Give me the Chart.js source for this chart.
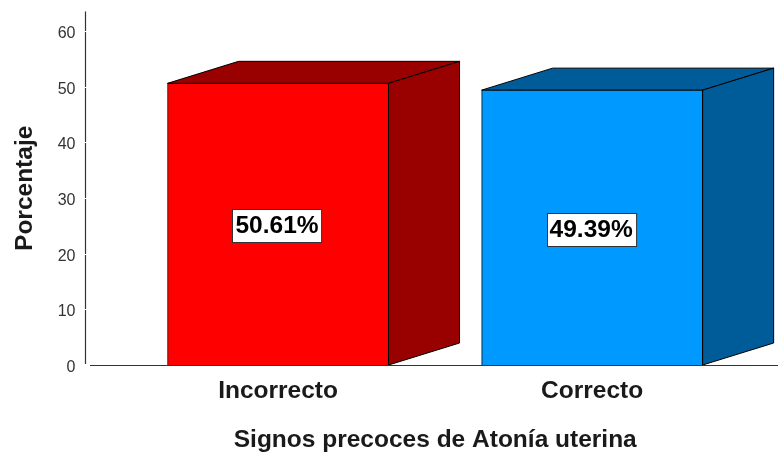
<!DOCTYPE html>
<html><head><meta charset="utf-8">
<style>html,body{margin:0;padding:0;background:#fff;overflow:hidden;width:778px;height:452px}canvas{display:block}</style>
<script src="https://cdn.jsdelivr.net/npm/chart.js@4"></script></head>
<body><canvas id="c" width="785" height="452"></canvas>
<script>
const categories = ["Incorrecto", "Correcto"];
const percentages = [50.61, 49.39];
const valueLabels = ["50.61%", "49.39%"];
const faceColors = ["#ff0000", "#0099ff"];
const sideColors = ["#990000", "#005c99"];
const yTicks = [0, 10, 20, 30, 40, 50, 60];
const depthX = 71, depthY = 22;
const FONT = '"Liberation Sans", Arial, sans-serif';

const poly = (ctx, pts, fill) => {
  ctx.beginPath();
  pts.forEach((p, i) => i ? ctx.lineTo(p[0], p[1]) : ctx.moveTo(p[0], p[1]));
  ctx.closePath();
  ctx.fillStyle = fill; ctx.fill();
  ctx.strokeStyle = "#000"; ctx.lineWidth = 1; ctx.stroke();
};

const box3d = {
  id: "box3d",
  beforeDraw(chart) {
    if (chart.$shifted) return;
    chart.$shifted = true;
    chart.scales.y.getLabelItems().forEach(it => { it.options.translation[1] += 2.5; });
  },
  beforeDatasetsDraw(chart) {
    const ctx = chart.ctx;
    chart.getDatasetMeta(0).data.forEach((b, i) => {
      const l = b.x - b.width / 2, r = b.x + b.width / 2, t = b.y, bt = b.base;
      poly(ctx, [[l, t], [l + depthX, t - depthY], [r + depthX, t - depthY], [r, t]], sideColors[i]);
      poly(ctx, [[r, t], [r + depthX, t - depthY], [r + depthX, bt - depthY], [r, bt]], sideColors[i]);
    });
  },
  afterDraw(chart) {
    const ctx = chart.ctx, ya = chart.scales.y, xa = chart.scales.x;
    const x0 = xa.left, y0 = ya.getPixelForValue(0);
    ctx.save();
    ctx.strokeStyle = "#333"; ctx.lineWidth = 1.2;
    ctx.beginPath(); ctx.moveTo(x0, ya.top); ctx.lineTo(x0, y0 - 1); ctx.stroke();
    ctx.beginPath(); ctx.moveTo(x0 + 4.5, y0 + 0.5); ctx.lineTo(xa.right, y0 + 0.5); ctx.stroke();
    ctx.strokeStyle = "#fff"; ctx.lineWidth = 1;
    yTicks.slice(1).forEach(v => {
      const y = Math.round(ya.getPixelForValue(v)) + 0.5;
      ctx.beginPath(); ctx.moveTo(x0 - 2, y); ctx.lineTo(x0 + 2, y); ctx.stroke();
    });
    ctx.font = "bold 24.5px " + FONT;
    ctx.textAlign = "center"; ctx.textBaseline = "middle";
    chart.getDatasetMeta(0).data.forEach((b, i) => {
      const cy = (b.y + b.base) / 2 + 1.5;
      const cx = b.x - 1;
      const w = ctx.measureText(valueLabels[i]).width + 6, h = 33;
      const bx = Math.round(cx - w / 2) + 0.5, by = Math.round(cy - h / 2) + 0.5;
      ctx.fillStyle = "#fff"; ctx.strokeStyle = "#333";
      ctx.fillRect(bx, by, w, h); ctx.strokeRect(bx, by, w, h);
      ctx.fillStyle = "#000";
      ctx.fillText(valueLabels[i], cx, cy + 1);
    });
    ctx.restore();
  }
};

new Chart(document.getElementById("c"), {
  type: "bar",
  data: {
    datasets: [{
      data: categories.map((c, i) => ({ x: i, y: percentages[i] })),
      backgroundColor: faceColors,
      borderColor: "#000",
      borderWidth: 1,
      barThickness: 221
    }]
  },
  plugins: [box3d],
  options: {
    responsive: false, animation: false,
    layout: { padding: { top: 6, right: 0, bottom: 0, left: 0 } },
    plugins: { legend: { display: false }, tooltip: { enabled: false } },
    scales: {
      x: {
        type: "linear", offset: false, min: -0.613, max: 1.614,
        afterBuildTicks(s) { s.ticks = categories.map((c, i) => ({ value: i })); },
        afterFit(s) { s.height = 87; },
        grid: { display: false, offset: false }, border: { display: false },
        ticks: { autoSkip: false, maxRotation: 0, padding: 4, color: "#1a1a1a",
          font: { family: FONT, size: 24.5, weight: "bold" },
          callback: v => categories[v] },
        title: { display: true, text: "Signos precoces de Atonía uterina", color: "#1a1a1a",
          font: { family: FONT, size: 24.5, weight: "bold" }, padding: { top: 20, bottom: -2.5 } }
      },
      y: {
        min: 0, max: 63.5,
        afterBuildTicks(s) { s.ticks = yTicks.map(v => ({ value: v })); },
        afterFit(s) { s.width = 85.5; },
        grid: { display: false }, border: { display: false },
        ticks: { autoSkip: false, padding: 2, color: "#333",
          font: { family: FONT, size: 16 } },
        title: { display: true, text: "Porcentaje", color: "#1a1a1a",
          font: { family: FONT, size: 24.5, weight: "bold" }, padding: { top: 11, bottom: 20 } }
      }
    }
  }
});
</script></body></html>
